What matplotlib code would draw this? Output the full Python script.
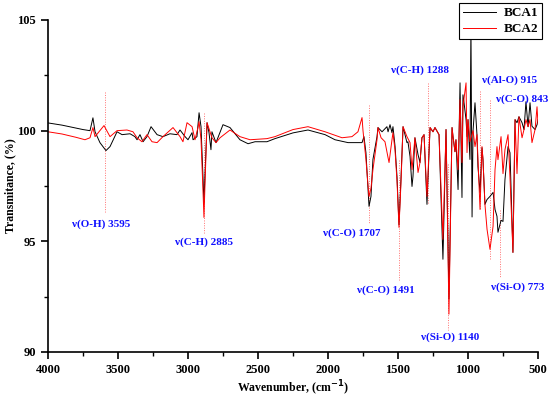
import matplotlib
matplotlib.use("Agg")
import matplotlib.pyplot as plt
from matplotlib.ticker import MultipleLocator

plt.rcParams['font.family'] = ['Liberation Serif', 'DejaVu Serif']
plt.rcParams['font.weight'] = 'bold'

# BCA1 (black) spectrum: wavenumber (cm^-1), transmittance (%)
bca1_w = [4000, 3900, 3750, 3700, 3679, 3664, 3629, 3586, 3557, 3507, 3471, 3414, 3379, 3364,
          3343, 3321, 3293, 3264, 3221, 3179, 3129, 3079, 3057, 3021, 3000, 2971, 2964, 2936,
          2921, 2907, 2893, 2886, 2880, 2864, 2850, 2836, 2829, 2800, 2750, 2700, 2629, 2571,
          2521, 2436, 2379, 2250, 2143, 2021, 1950, 1857, 1786, 1757, 1743, 1729, 1715, 1707,
          1693, 1679, 1650, 1643, 1614, 1579, 1571, 1557, 1543, 1536, 1521, 1507, 1493, 1479,
          1464, 1436, 1429, 1414, 1400, 1393, 1379, 1357, 1343, 1329, 1314, 1293, 1271, 1250,
          1236, 1207, 1179, 1157, 1136, 1114, 1107, 1093, 1086, 1071, 1057, 1043, 1036, 1029,
          1014, 1007, 1000, 986, 979, 971, 964, 950, 936, 929, 914, 900, 893, 879, 864, 843,
          821, 807, 793, 786, 764, 750, 736, 714, 700, 679, 664, 650, 636, 614, 600, 586, 571,
          557, 543, 521, 507, 500]
bca1_t = [100.35, 100.25, 100.05, 100.0, 100.58, 99.95, 99.46, 99.10, 99.28, 99.95, 99.82, 99.86,
          99.73, 99.59, 99.82, 99.50, 99.73, 100.18, 99.82, 99.73, 99.86, 99.82, 100.03, 99.73,
          99.59, 99.91, 99.59, 99.73, 100.81, 100.18, 97.90, 96.75, 97.80, 100.36, 99.91, 99.14,
          99.95, 99.46, 100.27, 100.14, 99.59, 99.41, 99.50, 99.50, 99.64, 99.90, 100.03, 99.82,
          99.59, 99.46, 99.46, 99.46, 99.73, 99.00, 97.50, 96.58, 97.03, 98.70, 99.73, 100.14,
          99.95, 100.18, 99.95, 100.27, 99.91, 100.18, 99.28, 97.90, 95.75, 97.79, 100.18, 99.46,
          99.50, 98.83, 97.48, 97.93, 99.68, 98.92, 98.56, 99.68, 99.82, 96.67, 100.14, 99.95,
          100.14, 99.82, 94.19, 100.05, 92.40, 100.14, 99.73, 99.05, 99.59, 97.34, 102.16, 96.98,
          101.62, 101.30, 100.50, 99.73, 100.50, 98.70, 104.80, 96.10, 100.0, 101.26, 99.82,
          98.38, 97.21, 99.23, 98.69, 96.67, 96.89, 97.03, 97.21, 96.44, 96.13, 95.41, 95.95,
          95.90, 97.79, 99.28, 99.00, 94.50, 100.50, 100.36, 100.63, 100.36, 100.05, 101.31,
          100.18, 101.26, 100.20, 100.05, 100.27, 100.50]

# BCA2 (red) spectrum
bca2_w = [4000, 3900, 3800, 3736, 3700, 3679, 3664, 3600, 3557, 3507, 3436, 3393, 3364, 3329,
          3293, 3257, 3221, 3179, 3107, 3057, 3036, 3007, 2971, 2950, 2929, 2921, 2907, 2893,
          2886, 2880, 2864, 2829, 2800, 2771, 2700, 2629, 2557, 2436, 2379, 2250, 2143, 2021,
          1900, 1829, 1786, 1757, 1750, 1729, 1715, 1707, 1693, 1679, 1650, 1643, 1621, 1593,
          1571, 1564, 1543, 1536, 1521, 1507, 1493, 1479, 1464, 1436, 1414, 1400, 1379, 1357,
          1343, 1329, 1314, 1293, 1271, 1250, 1236, 1207, 1179, 1157, 1136, 1114, 1107, 1093,
          1086, 1071, 1057, 1043, 1036, 1014, 1007, 1000, 986, 964, 950, 936, 914, 900, 893,
          879, 864, 843, 821, 807, 793, 786, 764, 750, 736, 714, 700, 679, 664, 650, 636, 614,
          600, 586, 571, 557, 543, 521, 507, 500]
bca2_t = [99.95, 99.85, 99.70, 99.59, 99.68, 100.14, 99.73, 100.23, 99.73, 100.0, 100.03, 99.95,
          99.68, 99.50, 99.82, 99.50, 99.46, 99.73, 100.14, 99.73, 99.50, 100.36, 100.18, 99.59,
          100.14, 100.41, 99.60, 97.30, 96.08, 97.30, 100.36, 99.68, 99.46, 99.68, 100.03, 99.73,
          99.59, 99.64, 99.73, 100.05, 100.18, 99.95, 99.68, 99.73, 99.95, 100.59, 100.0, 98.70,
          97.60, 97.03, 97.40, 98.24, 99.59, 100.14, 99.68, 99.50, 98.78, 98.56, 99.59, 99.91,
          99.10, 97.70, 95.63, 97.60, 100.18, 99.73, 99.46, 98.24, 99.68, 98.11, 98.56, 99.68,
          99.82, 97.03, 100.14, 99.95, 100.14, 99.82, 95.09, 100.05, 91.71, 100.14, 99.73, 99.05,
          99.59, 98.24, 101.40, 98.56, 101.08, 102.16, 99.01, 100.50, 99.50, 100.0, 99.28, 99.82,
          96.44, 99.28, 98.69, 96.67, 95.54, 94.64, 95.68, 98.24, 99.28, 98.69, 99.73, 98.06,
          99.14, 99.82, 97.88, 94.50, 100.50, 98.06, 100.63, 99.68, 100.05, 100.50, 100.18,
          100.50, 99.46, 100.05, 101.08, 100.30]

# band assignments: label, wavenumber of dotted marker, marker span, label position
band_labels = ['ν(O-H) 3595', 'ν(C-H) 2885', 'ν(C-O) 1707', 'ν(C-O) 1491', 'ν(C-H) 1288',
               'ν(Si-O) 1140', 'ν(Al-O) 915', 'ν(C-O) 843', 'ν(Si-O) 773']
band_w = [3595, 2885, 1707, 1491, 1288, 1140, 915, 843, 773]
band_top = [101.75, 100.8, 101.17, 98.69, 102.16, 98.5, 101.8, 101.4, 96.4]
band_bot = [96.33, 95.38, 95.83, 93.26, 96.67, 90.99, 96.4, 94.2, 93.35]
label_x = [3621, 2886, 1829, 1586, 1343, 1129, 700, 614, 643]
label_y = [95.78, 94.97, 95.37, 92.80, 102.75, 90.68, 102.30, 101.40, 92.94]

fig = plt.figure(figsize=(5.5, 4.0), dpi=100)
ax = fig.add_axes([48/550, 1-352/400, 490/550, 332/400])

for w, t0, t1 in zip(band_w, band_top, band_bot):
    ax.plot([w, w], [t0, t1], color='#ff7070', lw=0.7, ls=(0, (1, 1.5)))

ax.plot(bca1_w, bca1_t, color='black', lw=0.7, label='BCA1')
ax.plot(bca2_w, bca2_t, color='#ff0000', lw=0.7, label='BCA2')

for s, x, y in zip(band_labels, label_x, label_y):
    ax.text(x, y, s, color='#1010ff', fontsize=8, fontweight='bold',
            ha='center', va='center')

ax.set_xlim(4000, 500)
ax.set_ylim(90, 105)
ax.xaxis.set_major_locator(MultipleLocator(500))
ax.xaxis.set_minor_locator(MultipleLocator(250))
ax.yaxis.set_major_locator(MultipleLocator(5))
ax.yaxis.set_minor_locator(MultipleLocator(2.5))
for sp in ['top', 'right']:
    ax.spines[sp].set_visible(False)
for sp in ['left', 'bottom']:
    ax.spines[sp].set_linewidth(1.2)
ax.tick_params(which='major', direction='out', length=5, width=1.2, labelsize=9)
ax.tick_params(which='minor', direction='out', length=3, width=1.0)
for lab in ax.get_xticklabels() + ax.get_yticklabels():
    lab.set_fontweight('bold')

ax.set_xlabel('Wavenumber, (cm$^{\\mathbf{-1}}$)', fontsize=8.5, fontweight='bold')
ax.set_ylabel('Transmitance, (%)', fontsize=8.5, fontweight='bold')
ax.xaxis.set_label_coords(0.5, -0.08)
ax.yaxis.set_label_coords(-0.077, 0.5)
ax.yaxis.label.set_va('center')

leg = ax.legend(loc='upper right', bbox_to_anchor=(542/550, 1-3/400),
                bbox_transform=fig.transFigure, fancybox=False, framealpha=1,
                edgecolor='black', fontsize=9.5, handlelength=2.5, borderaxespad=0,
                borderpad=0.3, labelspacing=0.3, handletextpad=0.6)
leg.get_frame().set_linewidth(0.8)
for t in leg.get_texts():
    t.set_fontweight('bold')

fig.savefig('out.png', dpi=100)
